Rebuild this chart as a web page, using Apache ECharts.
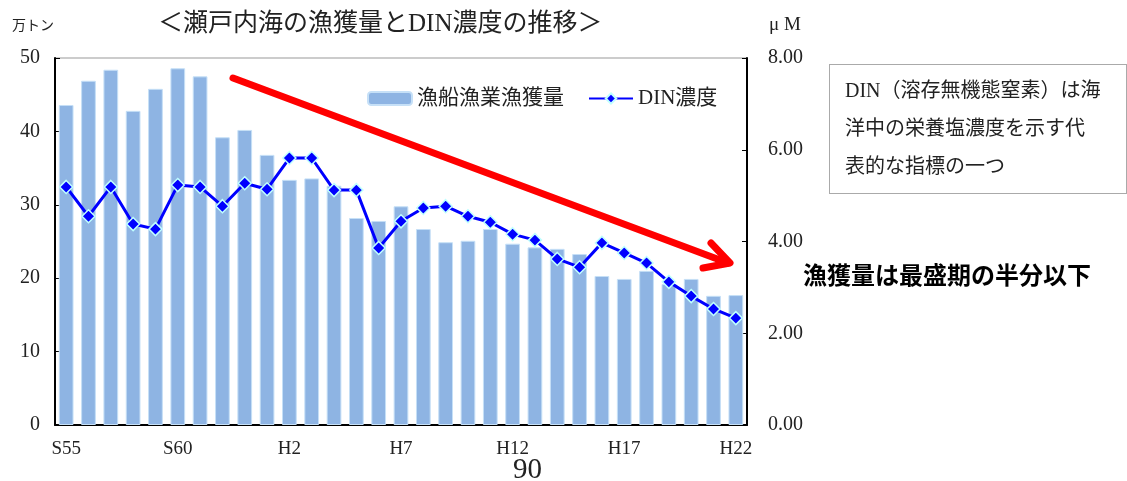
<!DOCTYPE html>
<html><head><meta charset="utf-8">
<script src="https://cdn.jsdelivr.net/npm/echarts@6/dist/echarts.min.js"></script>
<style>html,body{margin:0;padding:0;background:#fff}#c{width:1127px;height:481px}</style>
</head><body><div id="c"></div>
<script>
const categories = ['S55','S56','S57','S58','S59','S60','S61','S62','S63','H1','H2','H3','H4','H5','H6','H7','H8','H9','H10','H11','H12','H13','H14','H15','H16','H17','H18','H19','H20','H21','H22'];
const catch_ = [43.6,46.9,48.4,42.8,45.8,48.6,47.5,39.2,40.2,36.8,33.4,33.6,32.6,28.2,27.8,29.8,26.7,24.9,25.1,26.7,24.7,24.2,24.0,23.3,20.3,19.9,21.0,19.2,19.9,17.6,17.7];
const din = [5.19,4.55,5.19,4.38,4.27,5.23,5.19,4.77,5.27,5.14,5.82,5.82,5.12,5.12,3.86,4.44,4.73,4.77,4.55,4.42,4.16,4.03,3.62,3.44,3.97,3.75,3.53,3.12,2.81,2.53,2.33];
const leftTicks = [0,10,20,30,40,50];
const rightTicks = [0,2,4,6,8];

const serif = '"Liberation Serif","DejaVu Serif","Noto Sans CJK JP",serif';
const chart = echarts.init(document.getElementById('c'));
chart.setOption({
  animation:false,
  title:{text:'＜瀬戸内海の漁獲量とDIN濃度の推移＞',left:153,top:7,textStyle:{fontFamily:serif,fontSize:25,fontWeight:'normal',color:'#222'}},
  legend:{left:362,top:83,itemWidth:44,itemHeight:13,itemGap:24,textStyle:{fontFamily:serif,fontSize:21,color:'#222'},
    data:['漁船漁業漁獲量','DIN濃度']},
  grid:{left:55,right:380,top:58,bottom:56,show:true,borderColor:'#999',borderWidth:1},
  xAxis:{type:'category',data:categories,
    axisLine:{lineStyle:{color:'#000',width:2}},
    axisTick:{inside:true,length:5,interval:0,lineStyle:{color:'#000'}},
    axisLabel:{interval:4,color:'#222',fontFamily:serif,fontSize:19,margin:15}},
  yAxis:[
    {type:'value',min:0,max:50,interval:10,position:'left',
     axisLine:{show:true,lineStyle:{color:'#000',width:2}},
     axisTick:{show:true,inside:true,length:5,lineStyle:{color:'#000'}},
     splitLine:{show:false},
     axisLabel:{color:'#222',fontFamily:serif,fontSize:20,margin:15,formatter:v=>leftTicks.includes(v)?String(v):''}},
    {type:'value',min:0,max:8,interval:2,position:'right',
     axisLine:{show:true,lineStyle:{color:'#000',width:2}},
     axisTick:{show:true,inside:true,length:5,lineStyle:{color:'#000'}},
     splitLine:{show:false},
     axisLabel:{color:'#222',fontFamily:serif,fontSize:20,margin:21,formatter:v=>rightTicks.includes(v)?v.toFixed(2):''}}
  ],
  series:[
    {name:'漁船漁業漁獲量',type:'bar',data:catch_,yAxisIndex:0,barCategoryGap:'34%',
     itemStyle:{color:'#8EB4E3',borderColor:'#C6E0F7',borderWidth:1}},
    {name:'DIN濃度',type:'line',data:din,yAxisIndex:1,symbol:'diamond',symbolSize:13,
     lineStyle:{color:'#0000FF',width:3},itemStyle:{color:'#0000FF',borderColor:'#BFFFFF',borderWidth:1.5},z:5}
  ],
  graphic:[
    {type:'text',left:12,top:18,style:{text:'万トン',font:'14px "Noto Sans CJK JP"',fill:'#222'}},
    {type:'text',left:769,top:16,style:{text:'μ M',font:'19px '+serif,fill:'#222'}},
    {type:'polyline',z:20,shape:{points:[[233,78],[728,263]]},style:{stroke:'#FF0000',lineWidth:7,lineCap:'round'}},
    {type:'polyline',z:20,shape:{points:[[711,243],[730,263],[703,268]]},style:{stroke:'#FF0000',lineWidth:7,lineCap:'round',lineJoin:'round',fill:null}},
    {type:'rect',z:1,shape:{x:829.5,y:64.5,width:297,height:129},style:{fill:'#fff',stroke:'#555',lineWidth:1,lineDash:[1,1]}},
    {type:'text',z:2,left:845,top:73,style:{text:'DIN（溶存無機態窒素）は海\n洋中の栄養塩濃度を示す代\n表的な指標の一つ',font:'20px '+serif,fill:'#222',lineHeight:38}},
    {type:'text',left:803,top:263,style:{text:'漁獲量は最盛期の半分以下',font:'bold 24px "Noto Sans CJK JP"',fill:'#000'}},
    {type:'text',left:513,top:456,style:{text:'90',font:'29px '+serif,fill:'#222'}}
  ]
});
</script></body></html>
